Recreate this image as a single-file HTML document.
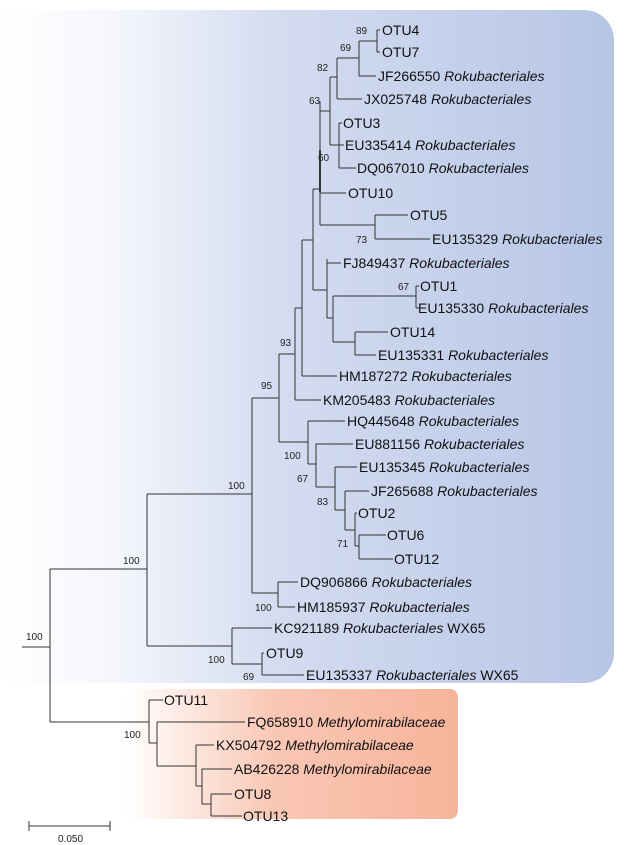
<!DOCTYPE html>
<html><head><meta charset="utf-8"><style>
html,body{margin:0;padding:0;background:#fff;}
svg{display:block;font-family:"Liberation Sans",sans-serif;}
.t{font-size:14px;fill:#111;}
.b{font-size:10px;fill:#222;}
</style></head><body>
<svg width="625" height="845" viewBox="0 0 625 845" xmlns="http://www.w3.org/2000/svg">
<defs>
<linearGradient id="gb" x1="0" x2="1" y1="0" y2="0">
<stop offset="0" stop-color="#ffffff"/>
<stop offset="0.18" stop-color="#f5f7fc"/>
<stop offset="0.45" stop-color="#d4dcf0"/>
<stop offset="1" stop-color="#b7c5e6"/>
</linearGradient>
<linearGradient id="go" x1="0" x2="1" y1="0" y2="0">
<stop offset="0" stop-color="#ffffff"/>
<stop offset="0.45" stop-color="#f9c7b4"/>
<stop offset="1" stop-color="#f7b49b"/>
</linearGradient>
</defs>
<path d="M0 10 H584 A30 30 0 0 1 614 40 V653 A30 30 0 0 1 584 683 H0 Z" fill="url(#gb)"/>
<rect x="125" y="689" width="333" height="130" rx="8" fill="url(#go)"/>
<g stroke="#333" stroke-width="1" fill="none">
<path d="M22 647H50M50 569V722M50 569H147M50 722H149"/>
<path d="M147 494V646M147 494H252M147 646H232"/>
<path d="M232 628V664M232 628H272M232 664H262M262 653V675M262 653H264M262 675H304"/>
<path d="M149 700V743M149 700H163M149 743H157M157 722V766M157 722H245M157 766H196M196 745V786M196 745H214M196 786H202M202 769V804M202 769H232M202 804H211M211 794V816M211 794H232M211 816H242"/>
<path d="M252 398V593M252 398H279M252 593H278M278 582V607M278 582H298M278 607H295"/>
<path d="M279 354V442M279 354H295M279 442H308M308 421V464M308 421H345M308 464H316M316 444V487M316 444H353M316 487H335M335 467V510M335 467H357M335 510H345M345 491V530M345 491H369M345 530H355M355 513V546M355 513H357M355 546H359M359 535V559M359 535H386M359 559H393"/>
<path d="M295 308V400M295 400H321M295 308H302M302 240V376M302 376H337M302 240H313"/>
<path d="M313 189V290M313 189H320M313 290H327M327 259V318M327 263H341M327 318H333M333 296V342M333 296H416M416 286V308M416 286H419M416 308H419M333 342H355M355 332V355M355 332H388M355 355H376"/>
<path d="M320 101V225M320 111H330M320 193H346M320 225H375M375 215V239M375 215H408M375 239H430"/>
<path stroke-width="2" d="M320 150V192"/>
<path d="M330 77V145M330 145H344M339 123V168M339 123H342M339 168H356M330 77H337M337 58V99M337 99H362M337 58H359M359 41V76M359 76H376M359 41H377M377 30V52M377 30H380M377 52H380"/>
<path d="M29 826H110M29 821V831M110 821V831"/>
</g>
<g class="t">
<text x="382" y="35">OTU4</text>
<text x="382" y="57">OTU7</text>
<text x="378" y="81">JF266550 <tspan font-style="italic">Rokubacteriales</tspan></text>
<text x="364" y="104">JX025748 <tspan font-style="italic">Rokubacteriales</tspan></text>
<text x="343" y="128">OTU3</text>
<text x="345" y="150">EU335414 <tspan font-style="italic">Rokubacteriales</tspan></text>
<text x="357" y="173">DQ067010 <tspan font-style="italic">Rokubacteriales</tspan></text>
<text x="348" y="198">OTU10</text>
<text x="410" y="220">OTU5</text>
<text x="432" y="244">EU135329 <tspan font-style="italic">Rokubacteriales</tspan></text>
<text x="343" y="268">FJ849437 <tspan font-style="italic">Rokubacteriales</tspan></text>
<text x="420" y="291">OTU1</text>
<text x="418" y="313">EU135330 <tspan font-style="italic">Rokubacteriales</tspan></text>
<text x="390" y="337">OTU14</text>
<text x="378" y="360">EU135331 <tspan font-style="italic">Rokubacteriales</tspan></text>
<text x="339" y="381">HM187272 <tspan font-style="italic">Rokubacteriales</tspan></text>
<text x="323" y="405">KM205483 <tspan font-style="italic">Rokubacteriales</tspan></text>
<text x="347" y="426">HQ445648 <tspan font-style="italic">Rokubacteriales</tspan></text>
<text x="355" y="449">EU881156 <tspan font-style="italic">Rokubacteriales</tspan></text>
<text x="359" y="472">EU135345 <tspan font-style="italic">Rokubacteriales</tspan></text>
<text x="371" y="496">JF265688 <tspan font-style="italic">Rokubacteriales</tspan></text>
<text x="358" y="518">OTU2</text>
<text x="387" y="540">OTU6</text>
<text x="394" y="564">OTU12</text>
<text x="300" y="587">DQ906866 <tspan font-style="italic">Rokubacteriales</tspan></text>
<text x="297" y="612">HM185937 <tspan font-style="italic">Rokubacteriales</tspan></text>
<text x="274" y="633">KC921189 <tspan font-style="italic">Rokubacteriales</tspan> WX65</text>
<text x="266" y="658">OTU9</text>
<text x="306" y="680">EU135337 <tspan font-style="italic">Rokubacteriales</tspan> WX65</text>
<text x="164" y="705">OTU11</text>
<text x="247" y="727">FQ658910 <tspan font-style="italic">Methylomirabilaceae</tspan></text>
<text x="216" y="750">KX504792 <tspan font-style="italic">Methylomirabilaceae</tspan></text>
<text x="234" y="774">AB426228 <tspan font-style="italic">Methylomirabilaceae</tspan></text>
<text x="234" y="799">OTU8</text>
<text x="243" y="821">OTU13</text>
</g>
<g class="b">
<text x="356" y="34">89</text>
<text x="340" y="51">69</text>
<text x="317" y="71">82</text>
<text x="309" y="104">63</text>
<text x="318" y="161">60</text>
<text x="356" y="243">73</text>
<text x="398" y="290">67</text>
<text x="280" y="346">93</text>
<text x="261" y="389">95</text>
<text x="284" y="459">100</text>
<text x="297" y="482">67</text>
<text x="317" y="505">83</text>
<text x="337" y="547">71</text>
<text x="255" y="611">100</text>
<text x="228" y="489">100</text>
<text x="123" y="564">100</text>
<text x="208" y="663">100</text>
<text x="243" y="680">69</text>
<text x="26" y="640">100</text>
<text x="124" y="738">100</text>
<text x="58" y="842">0.050</text>
</g>
</svg>
</body></html>
